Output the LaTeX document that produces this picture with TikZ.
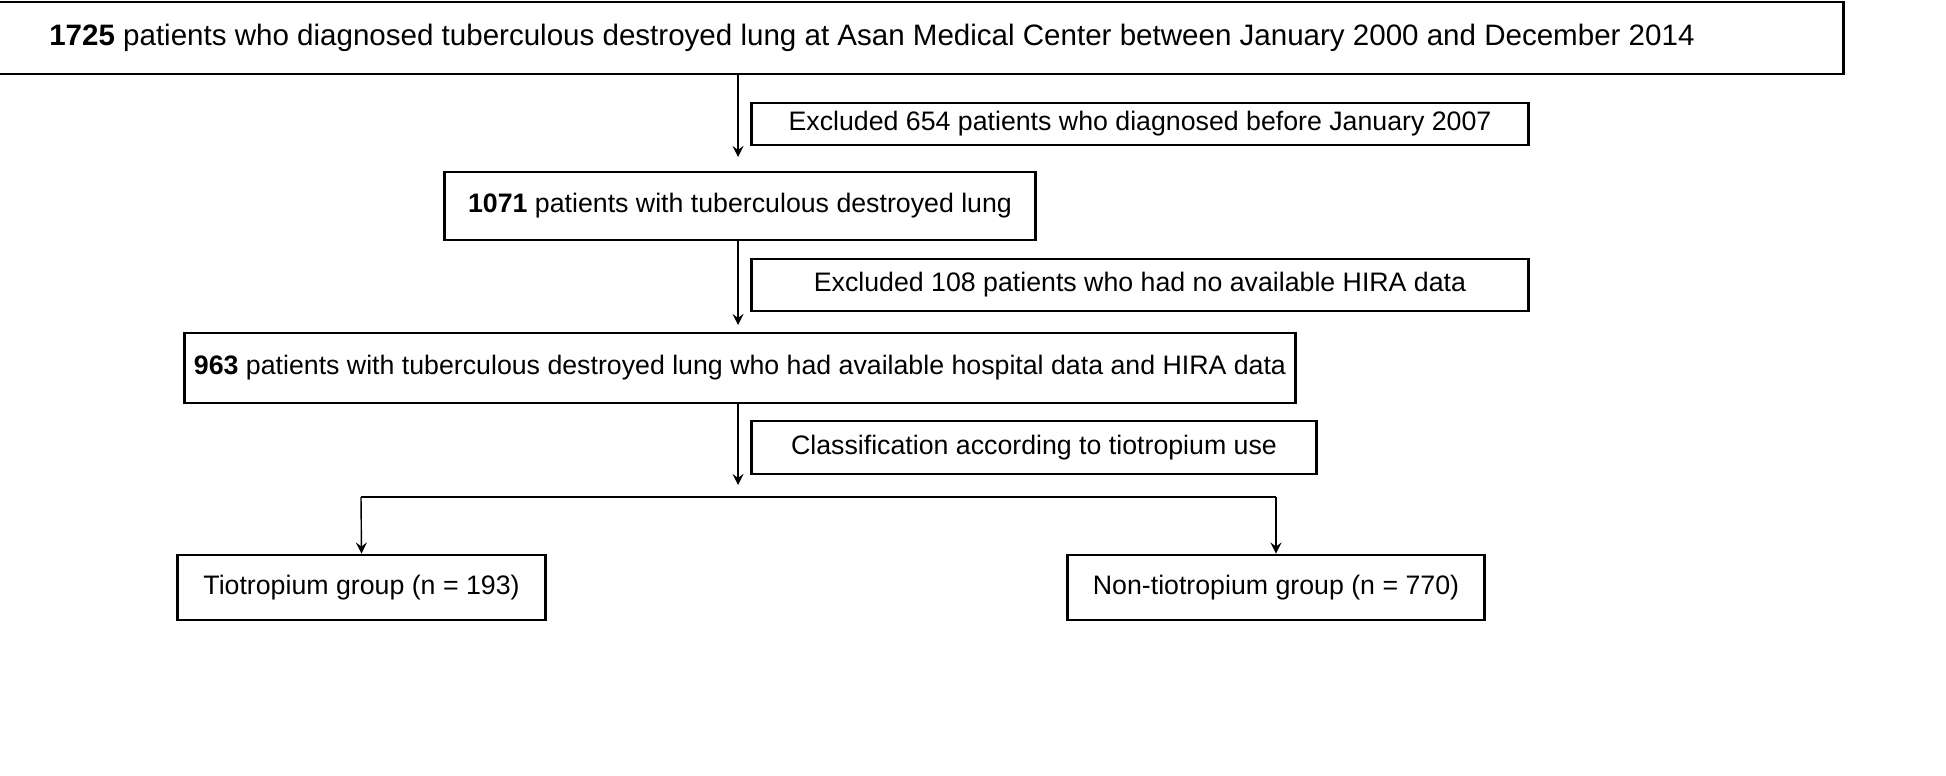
\documentclass[tikz,border=0pt]{standalone}
\usepackage{fontspec}
\setmainfont{Liberation Sans}
\usetikzlibrary{arrows}
\begin{document}
\begin{tikzpicture}[x=0.01cm,y=-0.01cm,>=stealth,
  box/.style={draw,thick,inner sep=0pt,font=\fontsize{7.6}{9}\selectfont,anchor=center}]
  \useasboundingbox (0,0) rectangle (1946,775);
  % boxes
  \node[box,minimum width=19.41cm,minimum height=0.72cm,font=\fontsize{8.4}{10}\selectfont] (all) at (872,38) {\textbf{1725} patients who diagnosed tuberculous destroyed lung at Asan Medical Center between January 2000 and December 2014};
  \node[box,minimum width=7.76cm,minimum height=0.42cm] (exone) at (1140,124) {Excluded 654 patients who diagnosed before January 2007};
  \node[box,minimum width=5.90cm,minimum height=0.68cm] (tdl) at (740,206) {\textbf{1071} patients with tuberculous destroyed lung};
  \node[box,minimum width=7.76cm,minimum height=0.52cm] (extwo) at (1140,285) {Excluded 108 patients who had no available HIRA data};
  \node[box,minimum width=11.10cm,minimum height=0.70cm] (hira) at (740,368) {\textbf{963} patients with tuberculous destroyed lung who had available hospital data and HIRA data};
  \node[box,minimum width=5.64cm,minimum height=0.53cm] (cls) at (1034,447.5) {Classification according to tiotropium use};
  \node[box,minimum width=3.67cm,minimum height=0.65cm] (tio) at (361.5,587.5) {Tiotropium group (n = 193)};
  \node[box,minimum width=4.16cm,minimum height=0.65cm] (non) at (1276,587.5) {Non-tiotropium group (n = 770)};
  % connectors
  \coordinate (a1) at (738,157);
  \coordinate (a2) at (738,325);
  \coordinate (a3) at (738,485);
  \coordinate (sl) at (361,497);
  \coordinate (sr) at (1276,497);
  \draw[->] (all.south -| a1) -- (a1);
  \draw[->] (tdl.south -| a2) -- (a2);
  \draw[->] (hira.south -| a3) -- (a3);
  \draw (sl) -- (sr);
  \draw[->] (sl) -- (tio.north);
  \draw[->] (sr) -- (non.north);
\end{tikzpicture}
\end{document}
